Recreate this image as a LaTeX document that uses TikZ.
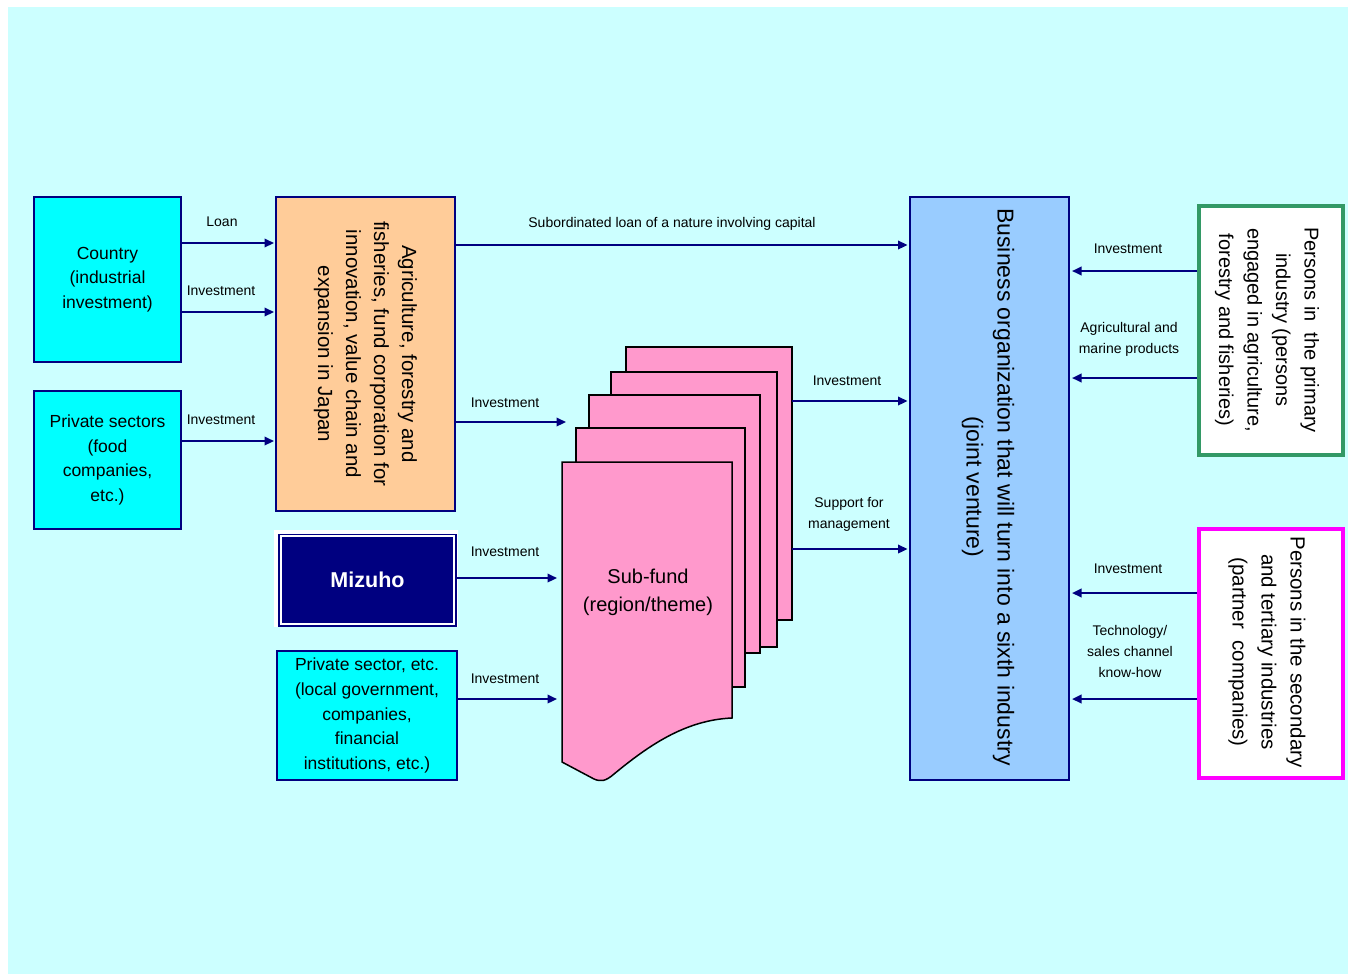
\documentclass[tikz,border=0pt]{standalone}
\usepackage{fontspec}
\setmainfont{Liberation Sans}
\usetikzlibrary{arrows.meta}
\definecolor{navyc}{HTML}{000080}
\definecolor{bgc}{HTML}{CCFFFF}
\definecolor{cyanc}{HTML}{00FFFF}
\definecolor{orangec}{HTML}{FFCC99}
\definecolor{pinkc}{HTML}{FF99CC}
\definecolor{bluec}{HTML}{99CCFF}
\definecolor{greenc}{HTML}{339966}
\definecolor{magc}{HTML}{FF00FF}
\tikzset{
  box/.style={draw=navyc, line width=2pt, anchor=north west, inner sep=0pt, align=center},
  arr/.style={navyc, line width=2.2pt, -{Triangle[length=9.5pt,width=8.5pt]}},
  lbl/.style={font=\fontsize{14}{21}\selectfont, align=center, inner sep=0pt},
  boxfont/.style={font=\fontsize{17.5}{24.7}\selectfont},
  vfont/.style={rotate=-90, align=center, inner sep=0pt},
  page/.style={fill=pinkc, draw=black, line width=1.5pt, line join=miter}
}
\begin{document}
\begin{tikzpicture}[x=1pt,y=-1pt]
\useasboundingbox (0,0) rectangle (1348,974);
\fill[white] (0,0) rectangle (1348,974);
\fill[bgc] (8,7) rectangle (1348,974);

% left boxes
\node[box, fill=cyanc, minimum width=147, minimum height=165, boxfont] (country) at (33,196) {Country\\(industrial\\investment)};
\node[box, fill=cyanc, minimum width=147, minimum height=138, boxfont] (private) at (33,390) {Private sectors\\(food\\companies,\\etc.)};

% orange box
\node[box, fill=orangec, minimum width=179, minimum height=314] (orange) at (275,196) {};
\node[vfont, font=\fontsize{20.5}{28}\selectfont] (orangetext) at (orange.center) {Agriculture, forestry and\\fisheries, fund corporation for\\innovation, value chain and\\expansion in Japan};

% Mizuho
\fill[white] (274,530) rectangle (458,627);
\node[draw=navyc, fill=navyc, double=white, double distance=2pt, line width=1.5pt, minimum width=173.5, minimum height=88, anchor=north west, inner sep=0pt, text=white, font=\fontsize{21.5}{26}\selectfont\bfseries] (mizuho) at (280,535.5) {Mizuho};

% private sector etc
\node[box, fill=cyanc, minimum width=180, minimum height=129, boxfont] (privetc) at (276,650) {Private sector, etc.\\(local government,\\companies,\\financial\\institutions, etc.)};

% sub-fund pages
\filldraw[page] (626,347) rectangle (792,620);
\filldraw[page] (611,372) rectangle (777,647);
\filldraw[page] (589,395) rectangle (760,653);
\filldraw[page] (576,428) rectangle (745,687);
\filldraw[page] (562,462) -- (732,462) -- (732,718) .. controls (685,720) and (648,746) .. (614,774) .. controls (606,781) and (601,782) .. (594,779) -- (562,762) -- cycle;
\node[align=center, inner sep=0pt, font=\fontsize{20}{28}\selectfont] (subfund) at (648,592) {Sub-fund\\(region/theme)};
\coordinate (sfA) at (566,422);
\coordinate (sfB) at (557,578);
\coordinate (sfC) at (557,699);
\coordinate (sfO1) at (792,401);
\coordinate (sfO2) at (792,549);

% business organization box
\node[box, fill=bluec, minimum width=159, minimum height=583] (biz) at (909,196) {};
\node[vfont, font=\fontsize{23}{31}\selectfont] (biztext) at (988,487) {Business organization that will turn into a sixth industry\\(joint venture)};

% right boxes
\node[draw=greenc, fill=white, line width=4pt, minimum width=144, minimum height=249, anchor=north west, inner sep=0pt] (primary) at (1197,204) {};
\node[vfont, font=\fontsize{20}{28.5}\selectfont] (primarytext) at (1267,330) {Persons in\ \ the primary\\industry (persons\\engaged in agriculture,\\forestry and fisheries)};
\node[draw=magc, fill=white, line width=4pt, minimum width=144, minimum height=249, anchor=north west, inner sep=0pt] (second) at (1197,527) {};
\node[vfont, font=\fontsize{20.5}{29}\selectfont] (secondtext) at (1267,652) {Persons in the secondary\\and tertiary industries\\(partner\ \ companies)};

% arrows left
\draw[arr, shorten >=1pt] (country.east |- 0,243) -- (orange.west |- 0,243);
\draw[arr, shorten >=1pt] (country.east |- 0,312) -- (orange.west |- 0,312);
\draw[arr, shorten >=1pt] (private.east |- 0,441) -- (orange.west |- 0,441);
\node[lbl] (l1) at (222,222) {Loan};
\node[lbl] (l2) at (221,291) {Investment};
\node[lbl] (l3) at (221,420) {Investment};

% orange -> biz
\draw[arr, shorten >=1.5pt] (orange.east |- 0,245) -- (biz.west |- 0,245);
\node[lbl] (l4) at (672,224) {Subordinated loan of a nature involving capital};

% into sub-fund
\draw[arr] (orange.east |- sfA) -- (sfA);
\draw[arr] (mizuho.east |- sfB) -- (sfB);
\draw[arr] (privetc.east |- sfC) -- (sfC);
\node[lbl] (l5) at (505,403) {Investment};
\node[lbl] (l6) at (505,552) {Investment};
\node[lbl] (l7) at (505,679) {Investment};

% sub-fund -> biz
\draw[arr, shorten >=1.5pt] (sfO1) -- (biz.west |- sfO1);
\draw[arr, shorten >=1.5pt] (sfO2) -- (biz.west |- sfO2);
\node[lbl] (l8) at (847,381) {Investment};
\node[lbl] (l9) at (849,514.5) {Support for\\management};

% right -> biz
\draw[arr, shorten >=2pt] (primary.west |- 0,271) -- (biz.east |- 0,271);
\draw[arr, shorten >=2pt] (primary.west |- 0,378) -- (biz.east |- 0,378);
\draw[arr, shorten >=2pt] (second.west |- 0,593) -- (biz.east |- 0,593);
\draw[arr, shorten >=2pt] (second.west |- 0,699) -- (biz.east |- 0,699);
\node[lbl] (l10) at (1128,249) {Investment};
\node[lbl] (l11) at (1129,339.5) {Agricultural and\\marine products};
\node[lbl] (l12) at (1128,569) {Investment};
\node[lbl] (l13) at (1130,651) {Technology/\\sales channel\\know-how};
\end{tikzpicture}
\end{document}
